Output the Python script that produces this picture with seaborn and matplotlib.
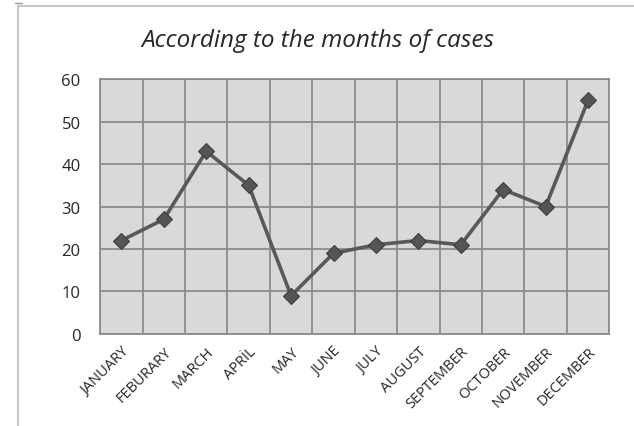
import numpy as np
import pandas as pd
import matplotlib
matplotlib.use("Agg")
import matplotlib.pyplot as plt
from matplotlib.lines import Line2D
import seaborn as sns

# --- data ---
months = ["JANUARY", "FEBURARY", "MARCH", "APRİL", "MAY", "JUNE", "JULY",
          "AUGUST", "SEPTEMBER", "OCTOBER", "NOVEMBER", "DECEMBER"]
cases = [22, 27, 43, 35, 9, 19, 21, 22, 21, 34, 30, 55]
y_ticks = [0, 10, 20, 30, 40, 50, 60]

df = pd.DataFrame({"month": months, "cases": cases})
df["pos"] = np.arange(len(months))

sns.set_style("white")
plt.rcParams['font.family'] = ['Open Sans', 'DejaVu Sans']

fig = plt.figure(figsize=(6.34, 4.27), dpi=100)
ax = fig.add_axes([0.158, 0.2155, 0.803, 0.597])
ax.set_facecolor('#d9d9d9')

sns.lineplot(data=df, x="pos", y="cases", ax=ax, color='#595959', lw=2.6,
             marker='D', markersize=8.5, markerfacecolor='#555555',
             markeredgecolor='#404040', markeredgewidth=0.8, zorder=5)

ax.set_xlim(-0.5, len(months) - 0.5)
ax.set_ylim(0, 60)
ax.set_yticks(y_ticks)
ax.set_xticks(df["pos"])
ax.set_xticklabels(months, rotation=45, ha='right', rotation_mode='anchor', fontsize=10.5)
ax.set_xticks(np.arange(-0.5, len(months)), minor=True)
ax.tick_params(axis='y', labelsize=12, length=0, pad=14)
ax.tick_params(axis='x', which='both', length=0, pad=7)
ax.grid(False)
ax.grid(axis='y', which='major', color='#8c8c8c', lw=1.3)
ax.grid(axis='x', which='minor', color='#8c8c8c', lw=1.3)
for s in ax.spines.values():
    s.set_color('#8c8c8c')
    s.set_linewidth(1.3)
ax.set_xlabel("")
ax.set_ylabel("")

fig.text(0.502, 0.905, "According to the months of cases", ha='center', va='center',
         fontsize=17.5, style='italic')

# outer chart frame (top and left edges visible)
fig.add_artist(Line2D([18 / 634, 1], [1 - 7 / 427, 1 - 7 / 427], color='#bfbfbf', lw=1.2))
fig.add_artist(Line2D([18 / 634, 18 / 634], [0, 1 - 7 / 427], color='#bfbfbf', lw=1.2))
fig.add_artist(Line2D([15 / 634, 22 / 634], [1 - 4 / 427, 1 - 4 / 427], color='#999999', lw=1))

fig.savefig("out.png", dpi=100)
